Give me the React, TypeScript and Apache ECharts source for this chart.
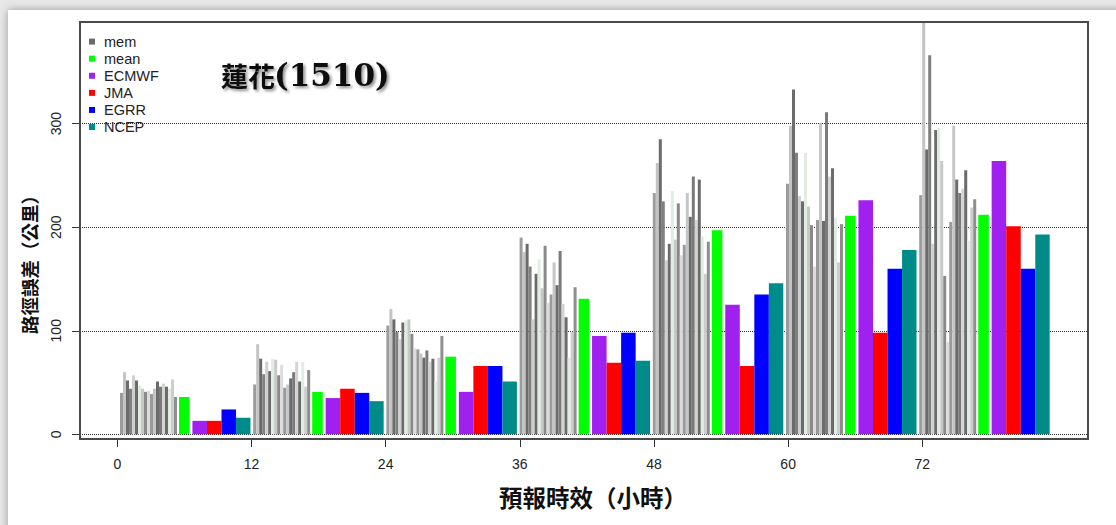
import React, { useEffect, useRef } from "react";
import * as echarts from "echarts";

// ---- tick labels ----
const LEAD_TICKS = [0, 12, 24, 36, 48, 60, 72];
const Y_TICKS = [0, 100, 200, 300];

// ---- ensemble members (km), one array per lead time ----
const MEM_00 = [40, 60, 52, 44, 57, 52, 47, 44, 41, 42, 39, 44, 51, 46, 49, 46, 44, 53, 36];
const MEM_12 = [48, 87, 73, 58, 70, 61, 73, 72, 57, 67, 45, 48, 54, 60, 70, 51, 70, 46, 62];
const MEM_24 = [105, 121, 111, 99, 92, 108, 110, 111, 97, 83, 82, 78, 74, 81, 70, 73, 51, 74, 95];
const MEM_36 = [190, 176, 184, 162, 111, 155, 169, 141, 182, 127, 135, 166, 144, 177, 126, 113, 74, 99, 142];
const MEM_48 = [233, 262, 285, 225, 168, 184, 235, 188, 223, 173, 183, 233, 210, 249, 207, 246, 191, 155, 186];
const MEM_60 = [242, 298, 333, 272, 230, 225, 272, 220, 202, 162, 207, 301, 206, 311, 249, 257, 209, 166, 203];
const MEM_72 = [231, 420, 275, 366, 184, 294, 296, 264, 153, 89, 205, 298, 246, 233, 237, 255, 187, 219, 227];
const MEMBERS = [MEM_00, MEM_12, MEM_24, MEM_36, MEM_48, MEM_60, MEM_72];

// ---- models (km) ----
const MEAN = [36, 41, 75, 131, 197, 211, 212];
const ECMWF = [13, 35, 41, 95, 125, 226, 264];
const JMA = [13, 44, 66, 69, 66, 98, 201];
const EGRR = [24, 40, 66, 98, 135, 160, 160];
const NCEP = [16, 32, 51, 71, 146, 178, 193];

// ---- styles / layout ----
const MEMBER_COLORS = [
  "#9c9c9c", "#c4c4c4", "#6b6b6b", "#808080", "#d0d0d0", "#6b6b6b", "#e2ece2",
  "#c8c8c8", "#8a8a8a", "#dcdcdc", "#9a9a9a", "#c6c6c6", "#6b6b6b", "#7a7a7a",
  "#d4d4d4", "#6b6b6b", "#e2ece2", "#cdcdcd", "#8e8e8e",
];
const X_MIN = -3.336;
const X_MAX = 86.82;
const Y_MAX = 398.2;
const GROUP_START = 0.24;
const GROUP_STEP = 11.914;
const MEM_W = 0.2683;

const MODELS = [
  { name: "mean", data: MEAN, color: "#00ff00", slot: [5.28, 6.22] },
  { name: "ECMWF", data: ECMWF, color: "#a020f0", slot: [6.48, 7.78] },
  { name: "JMA", data: JMA, color: "#ff0000", slot: [7.78, 9.08] },
  { name: "EGRR", data: EGRR, color: "#0000ff", slot: [9.08, 10.38] },
  { name: "NCEP", data: NCEP, color: "#008b8b", slot: [10.38, 11.67] },
];

function rectFor(params: any, api: any, x0: number, x1: number, v: number) {
  const p0 = api.coord([x0, v]);
  const p1 = api.coord([x1, 0]);
  const cs = params.coordSys;
  return echarts.graphic.clipRectByRect(
    { x: p0[0], y: p0[1], width: p1[0] - p0[0], height: p1[1] - p0[1] },
    { x: cs.x, y: cs.y, width: cs.width, height: cs.height }
  );
}

const CJK = '"Noto Sans CJK TC", "Noto Sans CJK SC", sans-serif';

export default function App() {
  const ref = useRef<HTMLDivElement>(null);

  useEffect(() => {
    if (!ref.current) return;
    const chart = echarts.init(ref.current, undefined, { renderer: "svg" });

    const memData: number[][] = [];
    MEMBERS.forEach((arr, g) => arr.forEach((v, m) => memData.push([g, m, v])));

    const series: any[] = [
      {
        name: "mem",
        type: "custom",
        itemStyle: { color: "#6b6b6b" },
        encode: { x: 0, y: 2 },
        data: memData,
        z: 3,
        renderItem: (params: any, api: any) => {
          const g = api.value(0);
          const m = api.value(1);
          const v = api.value(2);
          const x0 = GROUP_START + g * GROUP_STEP + m * MEM_W;
          const shape = rectFor(params, api, x0, x0 + MEM_W, v);
          return shape && { type: "rect", shape, style: { fill: MEMBER_COLORS[m] } };
        },
      },
      ...MODELS.map((md) => ({
        name: md.name,
        type: "custom",
        itemStyle: { color: md.color },
        encode: { x: 0, y: 1 },
        data: md.data.map((v, g) => [g, v]),
        z: 3,
        renderItem: (params: any, api: any) => {
          const g = api.value(0);
          const v = api.value(1);
          const base = GROUP_START + g * GROUP_STEP;
          const shape = rectFor(params, api, base + md.slot[0], base + md.slot[1], v);
          return shape && { type: "rect", shape, style: { fill: md.color } };
        },
      })),
    ];

    const shadow = {
      textShadowColor: "rgba(0,0,0,0.45)",
      textShadowBlur: 3,
      textShadowOffsetX: 2,
      textShadowOffsetY: 2,
    };

    const option: any = {
      animation: false,
      backgroundColor: "#e9e9e9",
      grid: { left: 80, top: 22, width: 1008, height: 412.3 },
      xAxis: {
        type: "value",
        min: X_MIN,
        max: X_MAX,
        offset: 4.7,
        axisLine: { show: false, onZero: false },
        axisTick: { show: true, length: 8, customValues: LEAD_TICKS, lineStyle: { color: "#333", width: 1 } },
        axisLabel: {
          customValues: LEAD_TICKS,
          margin: 18,
          fontSize: 14,
          color: "#222",
          fontFamily: "Liberation Sans, Arial, sans-serif",
        },
        splitLine: { show: false },
      },
      yAxis: {
        type: "value",
        min: 0,
        max: Y_MAX,
        interval: 100,
        axisLine: { show: false, onZero: false },
        axisTick: { show: true, length: 8, customValues: Y_TICKS, lineStyle: { color: "#333", width: 1 } },
        axisLabel: {
          customValues: Y_TICKS,
          rotate: 90,
          margin: 17,
          fontSize: 14,
          color: "#222",
          fontFamily: "Liberation Sans, Arial, sans-serif",
        },
        splitLine: { show: true, lineStyle: { type: "dotted", color: "#333", width: 1 } },
      },
      legend: {
        orient: "vertical",
        left: 89,
        top: 33,
        padding: 0,
        itemGap: 0,
        itemWidth: 6,
        itemHeight: 6,
        icon: "rect",
        data: ["mem", "mean", "ECMWF", "JMA", "EGRR", "NCEP"],
        textStyle: {
          fontSize: 14.5,
          lineHeight: 17.1,
          color: "#222",
          fontFamily: "Liberation Sans, Arial, sans-serif",
          padding: [0, 0, 0, 4],
        },
      },
      graphic: {
        elements: [
          {
            type: "rect",
            z: -10,
            silent: true,
            shape: { x: 8, y: 10, width: 1120, height: 530 },
            style: { fill: "#ffffff", shadowBlur: 10, shadowColor: "rgba(0,0,0,0.35)" },
          },
          {
            type: "rect",
            z: 100,
            silent: true,
            shape: { x: 80, y: 22, width: 1008, height: 417 },
            style: { fill: "none", stroke: "#4a4a4a", lineWidth: 2 },
          },
          {
            type: "text",
            z: 100,
            x: 221,
            y: 75,
            style: {
              text: "蓮花",
              fontSize: 27,
              fontWeight: "bold",
              fontFamily: CJK,
              fill: "#111",
              textVerticalAlign: "middle",
              ...shadow,
            },
          },
          {
            type: "text",
            z: 100,
            x: 274,
            y: 75,
            style: {
              text: "(1510)",
              fontSize: 31,
              fontWeight: "bold",
              fontFamily: '"DejaVu Serif", serif',
              fill: "#111",
              textVerticalAlign: "middle",
              ...shadow,
            },
          },
          {
            type: "text",
            z: 100,
            x: 29,
            y: 260,
            rotation: Math.PI / 2,
            style: {
              text: "路徑誤差（公里）",
              fontSize: 18.5,
              fontWeight: "bold",
              fontFamily: CJK,
              fill: "#111",
              textAlign: "center",
              textVerticalAlign: "middle",
            },
          },
          {
            type: "text",
            z: 100,
            x: 593,
            y: 497,
            style: {
              text: "預報時效（小時）",
              fontSize: 23.5,
              fontWeight: "bold",
              fontFamily: CJK,
              fill: "#111",
              textAlign: "center",
              textVerticalAlign: "middle",
            },
          },
        ],
      },
      series,
    };

    chart.setOption(option);
    return () => chart.dispose();
  }, []);

  return (
    <div
      ref={ref}
      style={{ position: "fixed", left: 0, top: 0, width: 1116, height: 525 }}
    />
  );
}
